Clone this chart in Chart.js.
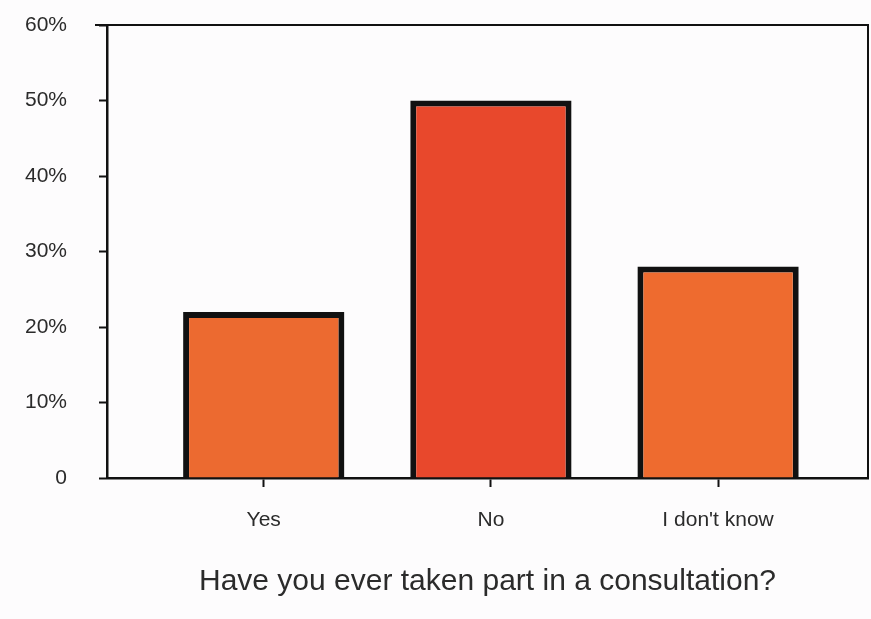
<!DOCTYPE html>
<html>
<head>
<meta charset="utf-8">
<script src="https://cdn.jsdelivr.net/npm/chart.js@4"></script>
<style>
  html, body { margin: 0; padding: 0; background: #fdfcfd; }
  #wrap { width: 871px; height: 619px; }
</style>
</head>
<body>
<div id="wrap"><canvas id="chart"></canvas></div>
<script>
// answers and share of people (percent)
const categories = ['Yes', 'No', "I don't know"];
const shares = [22, 50, 28];
const barColors = ['#ec6a30', '#e8482c', '#ee6b2f'];
const yTicks = [0, 10, 20, 30, 40, 50, 60];

const ink = '#2b2b2b';

// top + right lines of the frame
const frameBox = {
    id: 'frameBox',
    afterDraw(chart) {
        const { ctx, chartArea } = chart;
        ctx.save();
        ctx.strokeStyle = '#111';
        ctx.lineWidth = 2;
        ctx.beginPath();
        ctx.moveTo(chartArea.left - 12, chartArea.top);
        ctx.lineTo(chartArea.right, chartArea.top);
        ctx.lineTo(chartArea.right, chartArea.bottom);
        ctx.stroke();
        ctx.restore();
    }
};

const ctx = document.getElementById('chart').getContext('2d');
const chart = new Chart(ctx, {
    type: 'bar',
    data: {
        datasets: [{
            data: categories.map((c, i) => ({ x: i, y: shares[i] })),
            backgroundColor: barColors,
            borderColor: '#111',
            borderWidth: 6,
            borderSkipped: 'bottom',
            barPercentage: 0.71,
            categoryPercentage: 1
        }]
    },
    options: {
        responsive: true,
        maintainAspectRatio: false,
        animation: false,
        layout: { padding: { top: 25, right: 3, left: 0, bottom: 0 } },
        plugins: {
            legend: { display: false },
            tooltip: { enabled: false }
        },
        scales: {
            x: {
                type: 'linear',
                offset: false,
                min: -0.69,
                max: 2.66,
                afterBuildTicks: scale => {
                    scale.ticks = categories.map((c, i) => ({ value: i }));
                },
                afterFit: scale => {
                    scale.height = 141;
                    scale.paddingLeft = 0;
                    scale.paddingRight = 0;
                },
                ticks: {
                    callback: v => categories[v],
                    color: ink,
                    padding: 21,
                    font: { family: 'Liberation Sans', size: 21 }
                },
                grid: {
                    offset: false,
                    drawOnChartArea: false,
                    tickLength: 9,
                    tickColor: '#111',
                    tickWidth: 2
                },
                border: { color: '#111', width: 2.5 },
                title: {
                    display: true,
                    text: 'Have you ever taken part in a consultation?',
                    color: ink,
                    font: { family: 'Liberation Sans', size: 30 },
                    padding: { top: 0, bottom: 19 }
                }
            },
            y: {
                min: 0,
                max: 60,
                afterBuildTicks: scale => {
                    scale.ticks = yTicks.map(v => ({ value: v }));
                },
                afterFit: scale => {
                    scale.width = 107;
                    scale.paddingTop = 0;
                    scale.paddingBottom = 0;
                },
                ticks: {
                    callback: v => v === 0 ? '0' : v + '%',
                    color: ink,
                    padding: 32,
                    font: { family: 'Liberation Sans', size: 21 }
                },
                grid: {
                    drawOnChartArea: false,
                    tickLength: 8,
                    tickColor: '#111',
                    tickWidth: 2
                },
                border: { color: '#111', width: 2.5 }
            }
        }
    },
    plugins: [frameBox]
});
</script>
</body>
</html>
